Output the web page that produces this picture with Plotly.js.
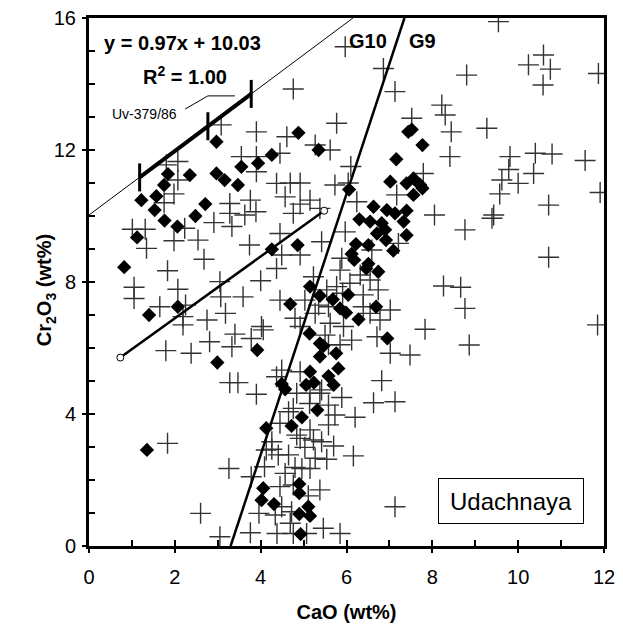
<!DOCTYPE html>
<html><head><meta charset="utf-8">
<script src="https://cdn.plot.ly/plotly-3.0.1.min.js"></script>
<style>html,body{margin:0;padding:0;background:#fff}#chart{width:623px;height:632px}</style>
</head><body><div id="chart"></div>
<script>
// Plus-marker garnets (CaO, Cr2O3)
const plusCaO = [3.08,3.90,1.80,2.07,2.07,3.55,3.90,3.90,
 5.97,6.86,4.76,7.13,5.77,7.52,4.61,5.27,5.62,4.45,6.10,6.04,4.37,4.69,4.92,5.73,7.79,8.22,
 9.54,10.59,10.24,10.75,10.58,8.80,11.87,8.30,8.44,9.27,8.41,9.81,9.78,9.62,10.00,10.40,10.79,10.36,11.56,
 9.57,9.43,9.39,10.71,11.91,8.76,10.71,8.26,8.66,8.76,8.86,11.85,8.05,
 1.98,1.75,3.28,3.28,3.76,3.63,3.89,2.91,3.33,2.23,1.01,1.31,1.34,1.98,2.54,3.74,2.68,1.83,1.05,1.05,2.07,3.05,3.07,3.59,4.00,1.65,2.25,2.19,2.19,2.75,3.18,4.02,3.40,3.78,2.81,3.33,1.79,2.38,
 3.28,3.47,3.90,1.83,3.26,3.78,4.09,2.60,3.96,3.05,3.76,4.13,
 6.82,6.63,7.13,6.20,6.16,7.13,5.89,5.73,5.58,5.58,5.38,5.15,4.84,4.76,5.14,5.15,4.92,5.23,5.42,5.70,5.03,4.26,4.26,4.41,4.65,5.27,5.54,4.57,4.80,4.96,5.15,4.45,5.38,4.76,5.11,4.49,4.34,4.72,4.69,4.38,5.46,5.85,5.07,4.76,4.49,4.37,4.92,5.42,4.65,4.45,4.84,
 4.57,4.92,5.15,4.76,5.38,6.24,7.17,4.45,5.42,5.97,7.21,6.59,5.89,4.49,4.92,4.37,5.85,6.32,5.23,5.77,6.08,6.55,6.74,5.54,5.91,6.39,4.45,5.03,5.35,5.58,6.39,7.02,6.55,4.80,5.27,5.93,5.62,4.92,6.78,4.06,5.50,6.12,5.58,5.85,6.71,7.02,7.48,7.83];
const plusCr2O3 = [12.76,12.55,11.55,11.65,11.09,11.80,11.80,11.34,
 15.13,14.47,13.85,13.77,12.81,12.96,12.40,12.15,12.00,11.90,11.50,11.00,10.99,11.00,11.00,10.94,11.29,13.36,
 15.89,14.88,14.58,14.45,13.97,14.27,14.32,13.06,12.55,12.66,11.80,11.80,11.41,11.09,10.99,11.90,11.88,11.29,11.68,
 10.67,10.03,9.93,10.33,10.71,9.58,8.75,7.88,7.84,7.20,6.09,6.70,10.03,
 10.67,10.40,10.38,10.08,10.48,10.03,10.13,9.80,9.68,9.63,9.60,9.60,9.02,9.25,9.27,9.12,8.69,8.34,7.84,7.50,7.78,8.01,7.55,7.55,8.04,7.25,7.30,6.95,6.70,6.85,7.05,6.65,6.42,6.29,6.19,6.04,5.92,5.84,
 4.95,4.95,4.60,3.11,2.35,2.10,2.40,0.99,0.99,0.28,0.40,2.91,
 5.01,4.34,4.37,3.90,2.73,1.19,4.50,3.97,3.67,4.27,4.63,4.63,4.63,4.17,4.32,3.52,3.26,3.21,3.16,3.03,2.99,3.16,2.93,2.76,2.76,2.66,2.63,2.20,2.38,2.35,2.35,1.80,1.70,1.85,1.52,1.19,0.94,1.04,0.69,0.38,0.54,0.38,0.38,0.38,5.33,5.13,5.28,4.73,4.07,3.72,3.36,
 10.58,10.36,10.48,10.08,10.23,10.43,10.64,9.47,9.22,9.52,9.17,8.97,8.72,8.82,8.82,8.41,8.36,8.21,8.16,7.86,7.96,8.06,7.76,7.76,7.66,7.61,7.45,7.45,7.30,7.25,7.25,7.15,7.05,6.90,7.05,6.65,6.75,6.65,6.85,6.55,6.39,6.24,6.10,6.10,6.34,5.84,5.79,6.57];

// Diamond-marker garnets (CaO, Cr2O3)
const diaCaO = [2.97,1.84,2.35,2.97,3.16,3.47,3.55,3.94,1.75,
 4.88,4.26,5.35,7.44,7.52,7.77,7.16,7.02,7.40,7.56,7.72,6.06,
 1.22,1.57,1.53,1.76,2.06,2.48,2.71,1.12,0.82,2.07,1.40,3.92,2.99,
 4.13,1.35,4.06,4.02,
 7.56,7.77,6.63,6.94,7.13,7.40,6.30,6.55,6.82,7.33,6.71,6.90,6.92,7.40,7.09,6.22,6.51,6.12,6.18,6.51,6.46,6.74,4.86,4.26,5.15,5.38,5.68,6.04,4.69,5.85,5.99,6.69,6.28,5.14,5.38,5.46,5.76,5.38,6.95,
 5.15,5.81,5.58,5.06,5.24,5.70,4.49,4.57,5.32,4.96,4.72,4.90,4.90,4.31,5.11,4.90,5.15,4.93];
const diaCr2O3 = [12.25,11.27,11.24,11.29,11.09,10.94,11.49,11.60,10.94,
 12.52,11.85,12.00,12.55,12.62,12.15,11.72,11.04,10.99,11.14,10.94,10.80,
 10.48,10.60,10.18,9.86,9.68,10.00,10.36,9.35,8.45,7.25,7.00,5.94,5.56,
 3.57,2.91,1.75,1.39,
 10.64,10.84,10.28,10.18,10.08,10.16,9.90,9.83,9.78,9.83,9.47,9.58,9.27,9.42,8.95,9.15,9.12,8.85,8.67,8.55,8.41,8.31,9.12,8.99,7.86,7.58,7.47,7.61,7.33,7.20,7.07,7.25,6.87,6.44,6.14,6.06,5.84,5.74,6.29,
 5.28,5.38,5.15,4.88,4.95,4.88,4.91,4.75,4.12,3.90,3.64,1.88,1.60,1.27,1.19,0.97,0.91,0.36];

// Reference lines
const regX = [0, 6.15], regY = [10.03, 16];          // y = 0.97x + 10.03
const uvX = [1.18, 2.77, 3.78], uvY = [11.17, 12.72, 13.70]; // Uv-379/86
const g10X = [3.3, 7.35], g10Y = [0, 16];             // G10 / G9 divide
const trendX = [0.73, 5.48], trendY = [5.71, 10.16];  // open-circle line
const leadX = [2.24, 2.77, 3.40], leadY = [13.24, 13.64, 13.64];

// Axis ticks: every unit, labels on even units (x) / every 4 (y)
const xTickVals = [0,1,2,3,4,5,6,7,8,9,10,11,12];
const xTickText = ['0','','2','','4','','6','','8','','10','','12'];
const yTickVals = [0,1,2,3,4,5,6,7,8,9,10,11,12,13,14,15,16];
const yTickText = ['0','','','','4','','','','8','','','','12','','','','16'];
const xMajor = [0,2,4,6,8,10,12];
const yMajor = [0,4,8,12,16];

const FONT = 'Liberation Sans, Arial, sans-serif';
const traces = [
  {x: plusCaO, y: plusCr2O3, mode: 'markers', type: 'scatter',
   marker: {symbol: 'cross-thin', size: 15, line: {color: '#333', width: 1.4}}},
  {x: diaCaO, y: diaCr2O3, mode: 'markers', type: 'scatter',
   marker: {symbol: 'diamond', size: 11, color: '#000'}},
  {x: regX, y: regY, mode: 'lines', line: {color: '#000', width: 1}},
  {x: g10X, y: g10Y, mode: 'lines', line: {color: '#000', width: 2.5}},
  {x: trendX, y: trendY, mode: 'lines+markers', line: {color: '#000', width: 2.5},
   marker: {symbol: 'circle', size: 7, color: '#fff', line: {color: '#000', width: 1}}},
  {x: uvX, y: uvY, mode: 'lines+markers', line: {color: '#000', width: 4},
   marker: {symbol: 'line-ns', size: 20, line: {color: '#000', width: 3}}},
  {x: leadX, y: leadY, mode: 'lines', line: {color: '#000', width: 1}},
  {x: [1], y: [1], xaxis: 'x2', yaxis: 'y2', mode: 'markers', marker: {opacity: 0}}
];

const axBase = {showgrid: false, zeroline: false, linecolor: '#000', linewidth: 3,
  ticks: 'inside', ticklen: 6, tickwidth: 2, tickcolor: '#000',
  tickfont: {family: FONT, size: 20, color: '#000'}, mirror: true};

const layout = {
  width: 623, height: 632,
  margin: {l: 89, r: 19, t: 18, b: 86},
  paper_bgcolor: '#fff', plot_bgcolor: '#fff',
  showlegend: false,
  font: {family: FONT, color: '#000'},
  xaxis: Object.assign({}, axBase, {range: [0, 12], tickmode: 'array', tickvals: xTickVals, ticktext: xTickText,
    ticklabelstandoff: 11,
    title: {text: '<b>CaO (wt%)</b>', font: {family: FONT, size: 20, color: '#000'}, standoff: 18}}),
  yaxis: Object.assign({}, axBase, {range: [0, 16], tickmode: 'array', tickvals: yTickVals, ticktext: yTickText,
    ticklabelstandoff: 6}),
  xaxis2: {overlaying: 'x', anchor: 'y', side: 'bottom', range: [0, 12], tickmode: 'array', tickvals: xMajor,
    ticks: 'outside', ticklen: 6, tickwidth: 2, tickcolor: '#000', showticklabels: false,
    showline: false, showgrid: false, zeroline: false},
  yaxis2: {overlaying: 'y', anchor: 'x', side: 'left', range: [0, 16], tickmode: 'array', tickvals: yMajor,
    ticks: 'outside', ticklen: 6, tickwidth: 2, tickcolor: '#000', showticklabels: false,
    showline: false, showgrid: false, zeroline: false},
  annotations: [
    {xref: 'paper', yref: 'paper', x: -0.083, y: 0.485, xanchor: 'center', yanchor: 'middle',
     textangle: -90, showarrow: false,
     text: '<b>Cr<sub>2</sub>O<sub>3</sub> (wt%)</b>', font: {size: 20}},
    {x: 2.19, y: 15.24, text: '<b>y = 0.97x + 10.03</b>', showarrow: false, font: {size: 20}},
    {x: 2.24, y: 14.27, text: '<b>R<sup>2</sup> = 1.00</b>', showarrow: false, font: {size: 20}},
    {x: 1.3, y: 13.1, text: 'Uv-379/86', showarrow: false, font: {size: 14}},
    {x: 6.5, y: 15.3, text: '<b>G10</b>', showarrow: false, font: {size: 20}},
    {x: 7.77, y: 15.3, text: '<b>G9</b>', showarrow: false, font: {size: 20}},
    {x: 9.83, y: 1.36, text: 'Udachnaya', showarrow: false, font: {size: 24},
     bordercolor: '#000', borderwidth: 1, borderpad: 8, width: 128, height: 28, bgcolor: '#fff'}
  ]
};
Plotly.newPlot('chart', traces, layout, {staticPlot: true, displayModeBar: false});
</script></body></html>
